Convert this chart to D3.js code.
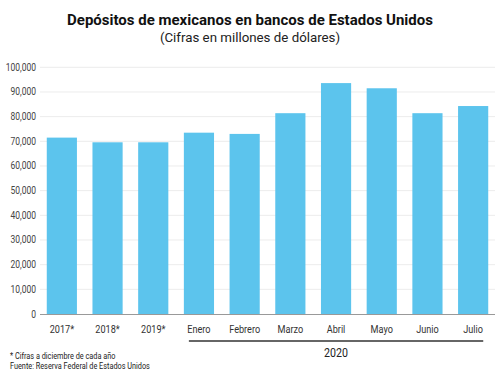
<!DOCTYPE html>
<html><head><meta charset="utf-8">
<script src="https://cdn.jsdelivr.net/npm/d3@7"></script>
<style>
body{margin:0;background:#fff;}
svg{display:block;}
.t{font-family:Roboto,"Noto Sans",sans-serif;}
.c{font-family:Roboto,"Noto Sans",sans-serif;}
</style></head>
<body>
<svg id="chart" width="500" height="380"></svg>
<script>
const categories = ["2017*","2018*","2019*","Enero","Febrero","Marzo","Abril","Mayo","Junio","Julio"];
const values = [71500,69600,69600,73500,73000,81400,93600,91500,81400,84300];
const yTicks = [0,10000,20000,30000,40000,50000,60000,70000,80000,90000,100000];
const groupLabel = "2020";
const groupStart = "Enero", groupEnd = "Julio";

const svg = d3.select("#chart");
const x = d3.scaleBand().domain(categories).range([39, 496]).paddingInner(0.34).paddingOuter(0.17);
const y = d3.scaleLinear().domain([0,100000]).range([314, 67.3]);

// condensed text helper
function ctext(g, tx, ty, s, size, anchor, fill){
  return g.append("text").attr("class","c")
    .attr("transform",`translate(${tx},${ty}) scale(${s},1)`)
    .attr("text-anchor",anchor).attr("font-size",size).attr("fill",fill);
}

// gridlines
svg.append("g").selectAll("line").data(yTicks.slice(1)).join("line")
  .attr("x1",40).attr("x2",495).attr("y1",d=>y(d)).attr("y2",d=>y(d))
  .attr("stroke","#ececec").attr("stroke-width",1);

// bars
svg.append("g").selectAll("rect").data(values).join("rect")
  .attr("x",(d,i)=>x(categories[i])).attr("width",x.bandwidth())
  .attr("y",d=>y(d)).attr("height",d=>y(0)-y(d))
  .attr("fill","#5cc4ed");

// y axis labels
const fmt = d3.format(",");
const yg = svg.append("g");
yTicks.forEach(d=>{
  ctext(yg, 36, y(d), 0.85, 10, "end", "#444").attr("dy","0.35em").text(fmt(d));
});

// baseline
svg.append("line").attr("x1",40).attr("x2",495).attr("y1",y(0)+0.5).attr("y2",y(0)+0.5)
  .attr("stroke","#999").attr("stroke-width",1);

// x labels
const xg = svg.append("g");
categories.forEach(d=>{
  ctext(xg, x(d)+x.bandwidth()/2, 333, 0.83, 11, "middle", "#333").text(d);
});

// group bracket
const gx1 = x(groupStart)+5, gx2 = x(groupEnd)+x.bandwidth()-5;
svg.append("line").attr("x1",gx1).attr("x2",gx2).attr("y1",341).attr("y2",341)
  .attr("stroke","#333").attr("stroke-width",1.5);
ctext(svg, (gx1+gx2)/2, 357, 0.82, 13, "middle", "#222").text(groupLabel);

// title
svg.append("text").attr("class","t").attr("x",250).attr("y",25).attr("text-anchor","middle")
  .attr("font-size",15).attr("font-weight","bold").attr("fill","#111")
  .text("Depósitos de mexicanos en bancos de Estados Unidos");
svg.append("text").attr("class","t").attr("x",250).attr("y",42).attr("text-anchor","middle")
  .attr("font-size",13.3).attr("fill","#222")
  .text("(Cifras en millones de dólares)");

// footnotes
ctext(svg, 10, 358.5, 0.77, 9.5, "start", "#222").text("* Cifras a diciembre de cada año");
ctext(svg, 10, 368.5, 0.77, 9.5, "start", "#222").text("Fuente: Reserva Federal de Estados Unidos");
</script>
</body></html>
